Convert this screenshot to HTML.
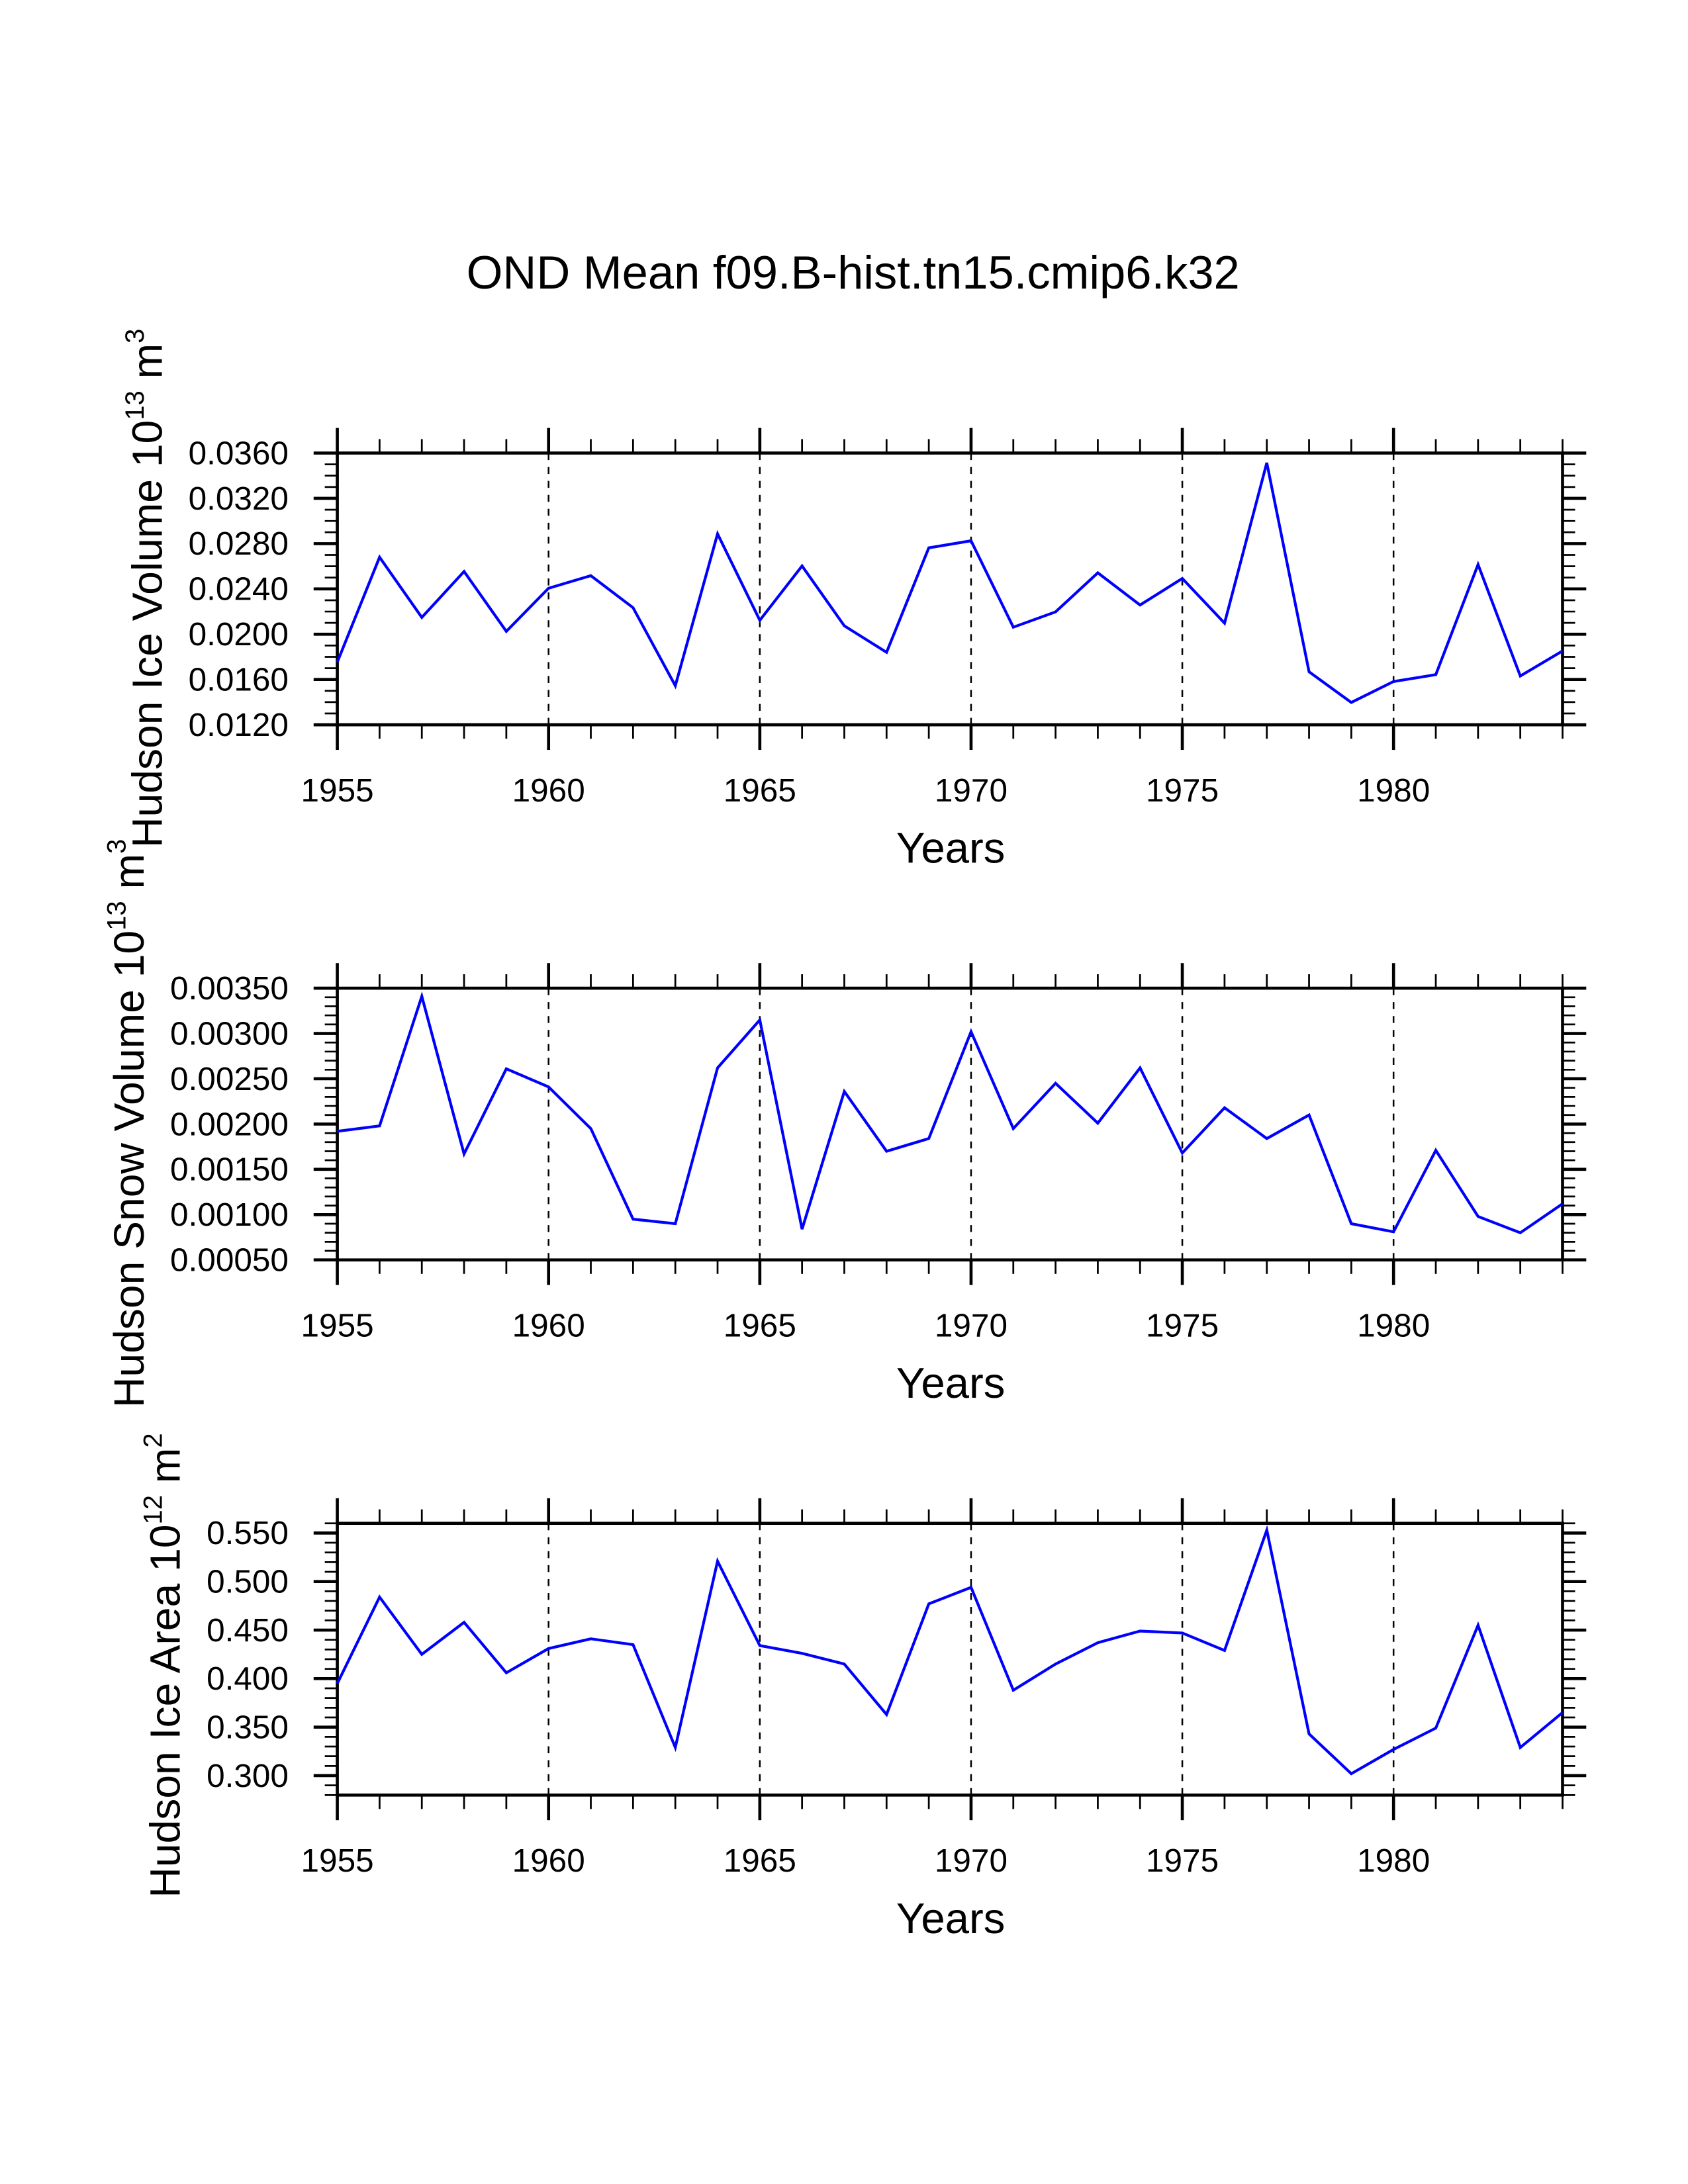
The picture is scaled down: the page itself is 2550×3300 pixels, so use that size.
<!DOCTYPE html>
<html><head><meta charset="utf-8"><style>html,body{margin:0;padding:0;background:#fff}svg{display:block}</style></head>
<body>
<svg id="chart" width="2550" height="3300" viewBox="0 0 1211 1567" xmlns="http://www.w3.org/2000/svg" font-family="Liberation Sans, sans-serif">
<rect width="1211" height="1567" fill="#fff"/>
<text x="612" y="207" font-size="33.5" text-anchor="middle">OND Mean f09.B-hist.tn15.cmip6.k32</text>
</svg>
<script>
const years = [1955,1956,1957,1958,1959,1960,1961,1962,1963,1964,1965,1966,1967,1968,1969,1970,1971,1972,1973,1974,1975,1976,1977,1978,1979,1980,1981,1982,1983,1984];
const iceVolume = [0.01754,0.0268,0.02148,0.02554,0.02025,0.02406,0.02517,0.02234,0.01545,0.02886,0.02123,0.02603,0.02074,0.0184,0.02763,0.02825,0.02062,0.02197,0.02542,0.02258,0.02492,0.02098,0.03514,0.01668,0.01397,0.01582,0.01643,0.02615,0.01631,0.01852];
const snowVolume = [0.00192,0.00198,0.00341,0.00167,0.00261,0.00241,0.00195,0.00095,0.0009,0.00262,0.00315,0.00084,0.00236,0.0017,0.00184,0.00302,0.00195,0.00245,0.00201,0.00262,0.00168,0.00218,0.00184,0.0021,0.0009,0.00081,0.00171,0.00098,0.0008,0.00112];
const iceArea = [0.395,0.484,0.425,0.458,0.406,0.431,0.441,0.435,0.329,0.521,0.434,0.426,0.415,0.363,0.477,0.494,0.388,0.415,0.437,0.449,0.447,0.429,0.553,0.343,0.302,0.327,0.349,0.455,0.329,0.365];
const xTickLabels = ["1955","1960","1965","1970","1975","1980"];
const iceVolTicks = ["0.0120","0.0160","0.0200","0.0240","0.0280","0.0320","0.0360"];
const snowTicks = ["0.00050","0.00100","0.00150","0.00200","0.00250","0.00300","0.00350"];
const areaTicks = ["0.300","0.350","0.400","0.450","0.500","0.550"];

const NS="http://www.w3.org/2000/svg";
const svg=document.getElementById('chart');
function el(tag,attrs,parent){const e=document.createElementNS(NS,tag);for(const k in attrs)e.setAttribute(k,attrs[k]);(parent||svg).appendChild(e);return e;}
const X0=242,X1=1121;
function sx(yr){return X0+(yr-1955)/(1984-1955)*(X1-X0);}

function panel(key,top,ymin,ymax,minorStep,ticks,values,labelParts,labelCy){
  const bot=top+195;
  const sy=v=>bot-(v-ymin)/(ymax-ymin)*195;
  const g=el('g',{});
  
  
  for(let yr=1960;yr<1984;yr+=5){
    const l=el('line',{x1:sx(yr),x2:sx(yr),y1:top,y2:bot,stroke:'#000','stroke-width':1.2,'stroke-dasharray':'5,5'},g);
    
    
  }
  for(let yr=1955;yr<=1984;yr++){
    const maj=(yr%5===0);
    const L=maj?18:10;
    el('line',{x1:sx(yr),x2:sx(yr),y1:top,y2:top-L,stroke:'#000','stroke-width':maj?2.2:1.3},g);
    el('line',{x1:sx(yr),x2:sx(yr),y1:bot,y2:bot+L,stroke:'#000','stroke-width':maj?2.2:1.3},g);
  }
  xTickLabels.forEach(t=>{
    const tx=el('text',{x:sx(+t),y:bot+55,'font-size':23.5,'text-anchor':'middle'},g);
    tx.textContent=t;
    
    
  });
  const n=Math.round((ymax-ymin)/minorStep);
  for(let i=0;i<=n;i++){
    const v=ymin+i*minorStep;
    const isMaj=ticks.some(t=>Math.abs(+t-v)<minorStep*0.1);
    const L=isMaj?17:9;
    el('line',{x1:X0,x2:X0-L,y1:sy(v),y2:sy(v),stroke:'#000','stroke-width':isMaj?2.2:1.3},g);
    el('line',{x1:X1,x2:X1+L,y1:sy(v),y2:sy(v),stroke:'#000','stroke-width':isMaj?2.2:1.3},g);
  }
  ticks.forEach(t=>{
    const tx=el('text',{x:207,y:sy(+t)+8,'font-size':23.5,'text-anchor':'end'},g);
    tx.textContent=t;
    
    
  });
  const fr=el('rect',{x:X0,y:top,width:X1-X0,height:195,fill:'none',stroke:'#000','stroke-width':2.2},g);
  
  
  const pl=el('polyline',{points:values.map((v,i)=>sx(years[i])+','+sy(v)).join(' '),fill:'none',stroke:'#0000ff','stroke-width':2,'stroke-linejoin':'miter'},g);
  
  
  const xt=el('text',{x:682,y:bot+99,'font-size':31,'text-anchor':'middle'},g);
  xt.textContent='Years';
  
  
  const yt=el('text',{x:0,y:0,'font-size':30.5,'text-anchor':'middle',transform:'translate('+labelParts.x+','+labelCy+') rotate(-90)'},g);
  
  
  const a=el('tspan',{},yt);a.textContent=labelParts.main+' 10';
  const b=el('tspan',{dy:-13,'font-size':19},yt);b.textContent=labelParts.exp1;
  const c=el('tspan',{dy:13},yt);c.textContent=' m';
  const d=el('tspan',{dy:-13,'font-size':19},yt);d.textContent=labelParts.exp2;
}
panel('ice-volume',325,0.012,0.036,0.001,iceVolTicks,iceVolume,{x:116,main:'Hudson Ice Volume',exp1:'13',exp2:'3'},422);
panel('snow-volume',709,0.0005,0.0035,0.0001,snowTicks,snowVolume,{x:103,main:'Hudson Snow Volume',exp1:'13',exp2:'3'},806);
panel('ice-area',1093,0.28,0.56,0.01,areaTicks,iceArea,{x:129,main:'Hudson Ice Area',exp1:'12',exp2:'2'},1195);
</script>
</body></html>
